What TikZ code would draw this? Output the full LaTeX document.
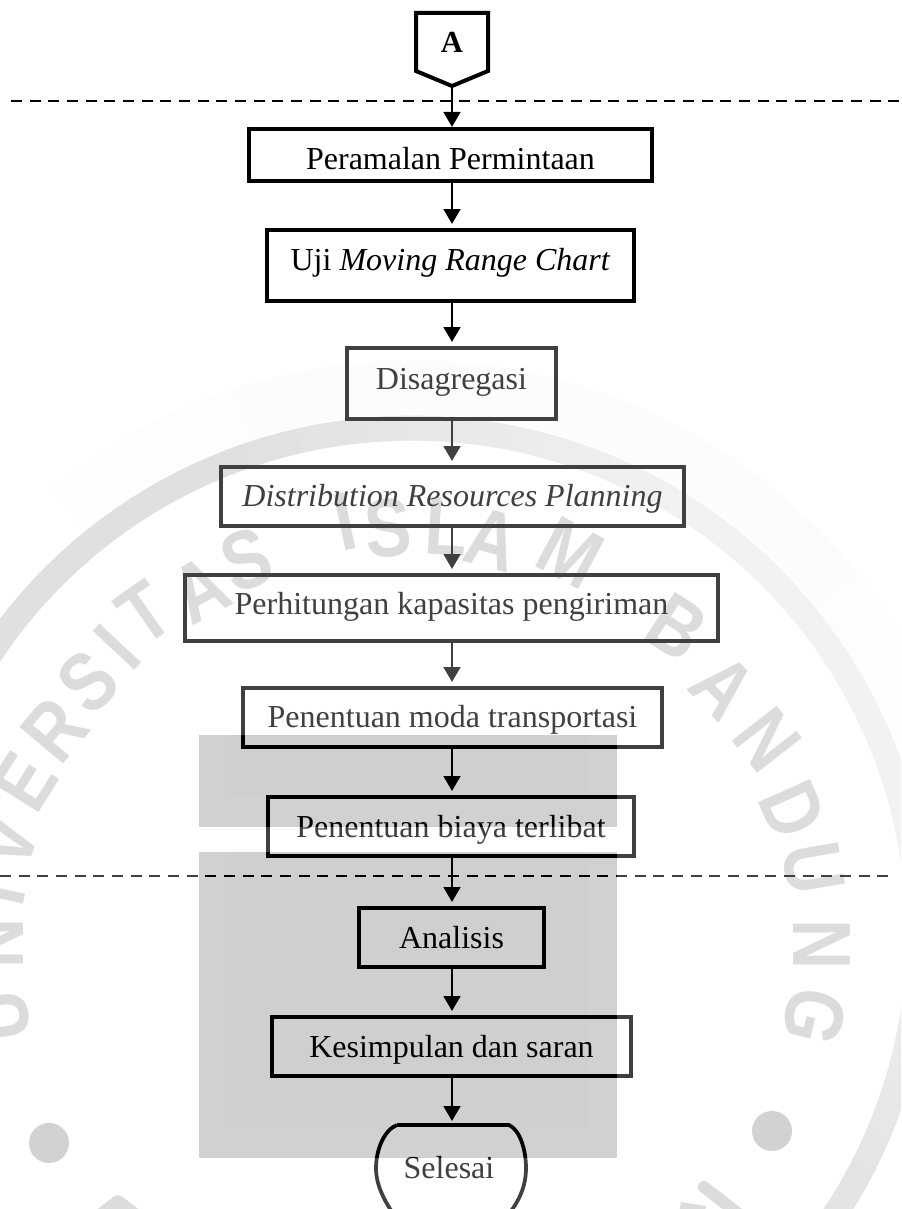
\documentclass[tikz,border=0pt]{standalone}
\usepackage{fontspec}
\setmainfont{Liberation Serif}
\newfontfamily\wmfont{Liberation Sans}
\usetikzlibrary{arrows.meta}
\newdimen\pxu \pxu=.75pt
\newcommand\bxtxt[2]{\smash{\raisebox{-#1\pxu}{#2}}}
\definecolor{rectin}{HTML}{CFCFCF}
\definecolor{rectout}{HTML}{D1D1D1}
\tikzset{
  x=.75pt,y=.75pt,
  bx/.style 2 args={draw=black,line width=3pt,rectangle,inner sep=0pt,outer sep=0pt,
    minimum width=#1*.75pt,minimum height=#2*.75pt,font=\fontsize{24}{28}\selectfont},
  flow/.style={draw=black,line width=2.1pt,-{Triangle[length=11.25pt,width=12.5pt]},shorten >=4.5pt},
  sep/.style={draw=black,line width=2.1pt,dash pattern=on 8.3pt off 5.7pt},
  wmk/.style={inner sep=0pt,outer sep=0pt,text=black!18,font=\wmfont\bfseries\fontsize{62}{62}\selectfont},
}
\begin{document}
\begin{tikzpicture}
\useasboundingbox (0,-1209) rectangle (901,0);
\fill[white] (0,-1209) rectangle (901,0);
\begin{scope}
\clip (0,-1209) rectangle (901,0);
% watermark: faint halo and ring
\foreach \a in {225,228,...,345}{
  \pgfmathsetmacro\h{1.6*sin((\a-225)*1.5)}
  \draw[line width=40pt,black!\h!white] ({412+548*cos(\a)},{-(935+548*sin(\a))}) -- ({412+548*cos(\a+3.2)},{-(935+548*sin(\a+3.2))});
}
\foreach \a in {205,207,...,405}{
  \pgfmathsetmacro\k{(\a<250)?16:((\a<300)?(16-(\a-250)*.186):((\a<350)?6.7:(6.7+(\a-350)*.186)))}
  \draw[line width=18.75pt,black!\k!white] ({412+507*cos(\a)},{-(935+507*sin(\a))}) -- ({412+507*cos(\a+2.2)},{-(935+507*sin(\a+2.2))});
}
% watermark letters
\foreach \n/\x/\y/\r/\L in {
  a/0/1017/98/U, b/-5/943/90/N, c/-3/893/78/I, d/7/842/70/V, e/25/782/58/E,
  f/55/730/50/R, g/88/682/43/S, h/117/647/47/I, i/145/613/35/T, j/200/590/28/A,
  k/247/560/20/S, l/345/522/12/I, m/388/528/5/S, n/447/527/-4/L, o/492/540/-15/A,
  p/570/553/-28/M, q/677/627/-33/B, r/723/687/-46/A, s/767/740/-52/N, t/793/810/-66/D,
  u/813/868/-80/U, v/822/945/-90/N, w/815/1017/-104/G}{
  \node[wmk,rotate=\r] (wm\n) at (\x,-\y) {\scalebox{.84}[1]{\L}};
}
\draw[line width=9pt,black!18,line join=round] (97,-1217) -- (118,-1201) -- (139,-1217);
\draw[line width=9pt,black!18,line cap=round] (704,-1187) -- (740,-1215);
\draw[line width=9pt,black!18] (680,-1208) -- (705,-1212);
\fill[black!23] (49,-1143) circle[radius=20];
\fill[black!23] (772,-1131) circle[radius=20];
% watermark: central block
\fill[rectout] (198.5,-735) rectangle (617,-827);
\fill[rectout] (198.5,-852) rectangle (617,-1158);
\fill[rectin] (230,-735) rectangle (588,-795);
\fill[rectin] (230,-852) rectangle (588,-1127);
\end{scope}
% separators
\draw[sep] (11,-101) -- (901,-101);
\draw[sep] (0,-876) -- (893,-876);
% start connector
\coordinate (atip) at (452,-86);
\draw[line width=3pt,line join=miter,black] (416,-13) -- (488,-13) -- (488,-71) -- (atip) -- (416,-71) -- cycle;
\node[inner sep=0pt,font=\bfseries\fontsize{23}{28}\selectfont] (A) at (452,-53) [anchor=base] {A};
% boxes
\node[bx={403}{52}] (b1) at (450.5,-155) {\bxtxt{15}{Peramalan Permintaan}};
\node[bx={367}{71}] (b2) at (450.5,-265.5) {\bxtxt{4.5}{Uji \textit{Moving Range Chart}}};
\node[bx={209}{71}] (b3) at (451.5,-383.5) {\bxtxt{5.5}{Disagregasi}};
\node[bx={463}{59}] (b4) at (452.5,-496.5) {\bxtxt{10}{\textit{Distribution Resources Planning}}};
\node[bx={533}{66}] (b5) at (451.5,-608) {\bxtxt{6}{Perhitungan kapasitas pengiriman}};
\node[bx={419}{59}] (b6) at (452.5,-717.5) {\bxtxt{9.5}{Penentuan moda transportasi}};
\node[bx={366}{59}] (b7) at (451,-826.5) {\bxtxt{10.5}{Penentuan biaya terlibat}};
\node[bx={185}{59}] (b8) at (451.5,-937.5) {\bxtxt{10.5}{Analisis}};
\node[bx={359}{59}] (b9) at (451.5,-1046.5) {\bxtxt{10.5}{Kesimpulan dan saran}};
% terminator
\coordinate (seltop) at (452,-1125);
\begin{scope}
\clip (0,-1209) rectangle (901,0);
\draw[line width=2.8pt,black] (397,-1125) -- (509,-1125)
  .. controls (520,-1130) and (526,-1150) .. (526,-1168)
  .. controls (526,-1185) and (520,-1200) .. (508,-1215)
  -- (394,-1215)
  .. controls (384,-1200) and (376,-1185) .. (376,-1168)
  .. controls (376,-1150) and (384,-1130) .. (397,-1125);
\end{scope}
\node[inner sep=0pt,anchor=base,font=\fontsize{24}{28}\selectfont] (sel) at (449,-1178) {Selesai};
% connectors
\draw[flow,shorten >=1.5pt] (atip) -- (atip |- b1.north);
\foreach \p/\q in {b1/b2,b2/b3,b3/b4,b4/b5,b5/b6,b6/b7,b7/b8,b8/b9}{
  \draw[flow] (452,0 |- \p.south) -- (452,0 |- \q.north);
}
\draw[flow,shorten >=3pt] (452,0 |- b9.south) -- (seltop);
% overlay that greys the ink outside the central block
\fill[white,opacity=.25,even odd rule] (0,-345) rectangle (901,-1209)
  (198.5,-735) rectangle (617,-827) (198.5,-852) rectangle (617,-1158);
\end{tikzpicture}
\end{document}
